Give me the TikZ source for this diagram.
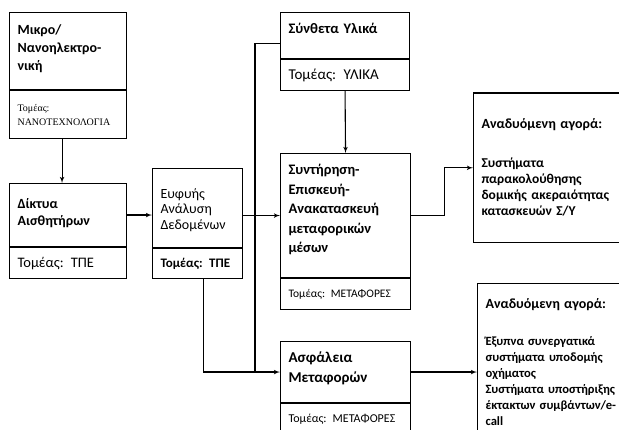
\documentclass[tikz,border=0pt]{standalone}
\usepackage{fontspec}
\setmainfont{Carlito}
\newfontfamily\timesfont{Liberation Serif}
\usetikzlibrary{arrows}
\usetikzlibrary{positioning}

\begin{document}
\begin{tikzpicture}[x=1pt, y=-1pt, >=latex', line width=1.1pt]
    \tikzstyle{block} = [draw, rectangle, align=left, anchor=north west, inner xsep=8pt, inner ysep=0pt];
    \tikzstyle{sektor} = [draw, rectangle, align=left, inner xsep=8pt, inner ysep=0pt];
    \useasboundingbox (0,0) rectangle (619,430);
    \clip (0,0) rectangle (619,430);
    % linke Spalte
    \node [block, text width=101pt, text height=21.5pt, text depth=55.5pt,
      font=\fontsize{14}{18}\selectfont\bfseries] (mikro) at (9,12)
      {Μικρο/\\Νανοηλεκτρο-\\νική};
    \node [sektor, below=0pt of mikro, text width=101pt, minimum height=48pt,
      font=\timesfont\fontsize{10}{14}\selectfont] (mikrot)
      {Τομέας:\\ΝΑΝΟΤΕΧΝΟΛΟΓΙΑ};
    \node [block, text width=101pt, text height=24.5pt, text depth=38.5pt,
      font=\fontsize{14}{17}\selectfont\bfseries] (diktya) at (9,183)
      {Δίκτυα\\Αισθητήρων};
    \node [sektor, below=0pt of diktya, text width=101pt, minimum height=31pt,
      font=\fontsize{14.5}{16}\selectfont] (diktyat) {Τομέας: ΤΠΕ};
    \node [block, text width=74pt, text height=29.5pt, text depth=49.5pt,
      font=\fontsize{14}{15.5}\selectfont] (analysi) at (152,168)
      {Ευφυής\\Ανάλυση\\Δεδομένων};
    \node [sektor, below=0pt of analysi, text width=74pt, minimum height=30pt,
      font=\fontsize{13}{15}\selectfont\bfseries] (analysit) {Τομέας: ΤΠΕ};
    % mittlere Spalte
    \node [block, text width=113pt, text height=20.5pt, text depth=25.5pt,
      font=\fontsize{14.5}{18}\selectfont\bfseries] (syntheta) at (280,12)
      {Σύνθετα Υλικά};
    \node [sektor, below=0pt of syntheta, text width=113pt, minimum height=31pt,
      font=\fontsize{15}{16}\selectfont] (synthetat) {Τομέας: ΥΛΙΚΑ};
    \node [block, text width=114pt, text height=21pt, text depth=103pt,
      font=\fontsize{14.5}{19.5}\selectfont\bfseries] (syntirisi) at (280,153)
      {Συντήρηση-\\Επισκευή-\\Ανακατασκευή\\μεταφορικών\\μέσων};
    \node [sektor, below=0pt of syntirisi, text width=114pt, minimum height=31pt,
      font=\fontsize{11.5}{14}\selectfont] (syntirisit) {Τομέας: ΜΕΤΑΦΟΡΕΣ};
    \node [block, text width=114pt, text height=21pt, text depth=40pt,
      font=\fontsize{15}{20}\selectfont\bfseries] (asfaleia) at (280,341)
      {Ασφάλεια\\Μεταφορών};
    \node [sektor, below=0pt of asfaleia, text width=114pt, minimum height=31pt,
      font=\fontsize{12}{14}\selectfont] (asfaleiat) {Τομέας: ΜΕΤΑΦΟΡΕΣ};
    % rechte Spalte
    \node [block, text width=200pt, text height=35pt, text depth=114.5pt,
      font=\fontsize{13.5}{16}\selectfont\bfseries] (agora1) at (473,92.5)
      {{\fontsize{14}{16}\selectfont Αναδυόμενη αγορά:}\\[23pt]
       Συστήματα\\παρακολούθησης\\δομικής ακεραιότητας\\κατασκευών Σ/Υ};
    \node [block, text width=200pt, text height=24.5pt, text depth=200pt,
      font=\fontsize{12.6}{16}\selectfont\bfseries] (agora2) at (477,283)
      {{\fontsize{14}{16}\selectfont Αναδυόμενη αγορά:}\\[21pt]
       Έξυπνα συνεργατικά\\συστήματα υποδομής\\οχήματος\\Συστήματα υποστήριξης\\έκτακτων συμβάντων/e-\\call};
    % Verbindungen
    \path (asfaleia.west) -- ++(-25,0) coordinate (knick);
    \draw [->] ([xshift=-6pt]mikrot.south) -- ([xshift=-6pt]diktya.north);
    \draw [->] (diktya.east) -- (diktya.east -| analysi.west);
    \draw [->] (syntirisi.west -| analysi.east) -- (syntirisi.west);
    \draw [->] ([xshift=6pt]analysit.south) |- (asfaleia.west);
    \draw ([yshift=-8pt]syntheta.west) -| (knick);
    \draw [->] (synthetat.south) -- (syntirisi.north);
    \draw [->] (syntirisi.east) -- ++(33,0) |- (agora1.west);
    \draw [->] (asfaleia.east) -- (asfaleia.east -| agora2.west);
  \end{tikzpicture}
\end{document}
